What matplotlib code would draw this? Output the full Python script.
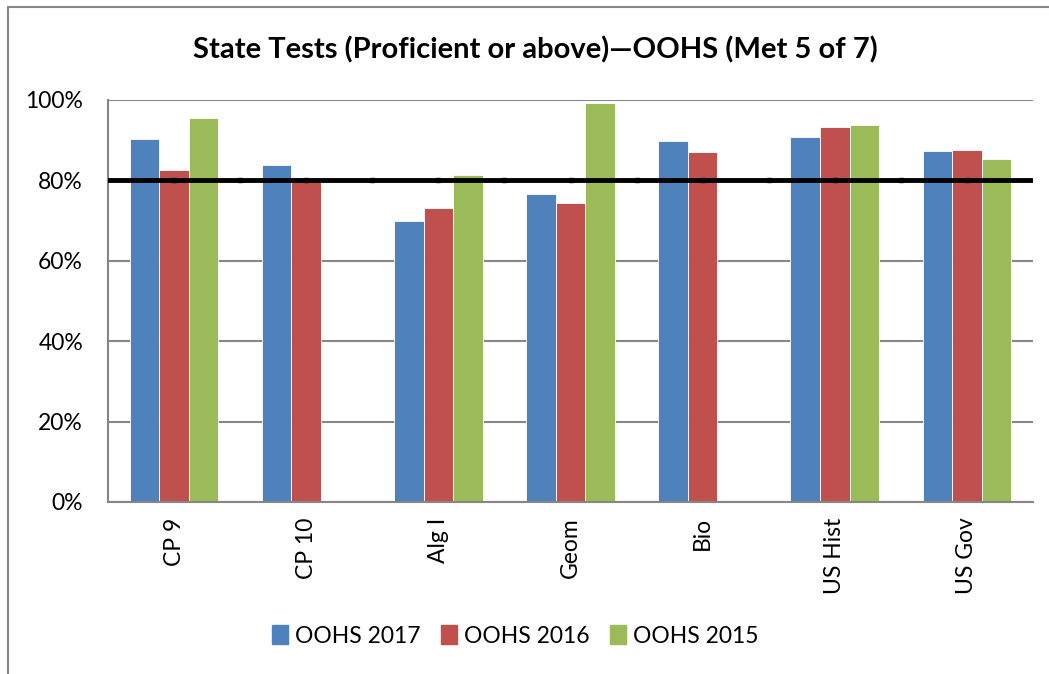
import matplotlib.pyplot as plt
import matplotlib.patches as mpatches
import numpy as np

plt.rcParams['font.family'] = ['Lato', 'DejaVu Sans']

# Data
subjects = ['CP 9', 'CP 10', 'Alg I', 'Geom', 'Bio', 'US Hist', 'US Gov']
series_names = ['OOHS 2017', 'OOHS 2016', 'OOHS 2015']
oohs_2017 = [90.4, 83.8, 69.8, 76.5, 89.8, 90.7, 87.3]
oohs_2016 = [82.7, 80.0, 73.1, 74.5, 87.0, 93.4, 87.5]
oohs_2015 = [95.6, np.nan, 81.4, 99.3, np.nan, 93.8, 85.3]
target = 80
y_ticks = [0, 20, 40, 60, 80, 100]
y_tick_labels = ['0%', '20%', '40%', '60%', '80%', '100%']

colors = ['#4F81BD', '#C0504D', '#9BBB59']
grid_color = '#868686'

fig = plt.figure(figsize=(10.49, 6.74), dpi=100)
ax = fig.add_axes([108 / 1049, 1 - 502 / 674, (1033 - 108) / 1049, (502 - 100) / 674])

# outer chart border (left and top visible)
fig.patches.append(mpatches.Rectangle((8 / 1049, -0.1), 1.2, 1 - 7 / 674 + 0.1,
                                      transform=fig.transFigure, fill=False,
                                      edgecolor=grid_color, linewidth=1.5))

x = np.arange(len(subjects))
width = 0.224
for i, (vals, name) in enumerate(zip([oohs_2017, oohs_2016, oohs_2015], series_names)):
    ax.bar(x + (i - 1) * width, vals, width, color=colors[i], label=name,
           edgecolor='white', linewidth=0.6, zorder=2)

# 80% target line with small markers
ax.axhline(target, color='black', linewidth=3.5, zorder=3)
marks = np.arange(0, len(subjects) - 0.5, 0.5)
ax.plot(marks, [target] * len(marks), linestyle='none', marker='s',
        markersize=3.5, color='black', zorder=4)

ax.set_xlim(-0.5, len(subjects) - 0.5)
ax.set_ylim(0, 100)
ax.set_yticks(y_ticks)
ax.set_yticklabels(y_tick_labels, fontsize=16.5)
ax.set_xticks(x)
ax.set_xticklabels(subjects, rotation=90, fontsize=16.5)
ax.tick_params(axis='both', length=0)
ax.tick_params(axis='y', pad=18)
ax.tick_params(axis='x', pad=11)
ax.grid(axis='y', color=grid_color, linewidth=1.5, zorder=0)
ax.set_axisbelow(True)
for side in ['top', 'right']:
    ax.spines[side].set_visible(False)
for side in ['left', 'bottom']:
    ax.spines[side].set_color(grid_color)
    ax.spines[side].set_linewidth(1.5)

fig.text(535 / 1049, 1 - 50 / 674, 'State Tests (Proficient or above)\u2014OOHS (Met 5 of 7)',
         ha='center', va='center', fontsize=21, fontweight='bold')

handles = [mpatches.Patch(color=c) for c in colors]
fig.legend(handles, series_names, loc='center', bbox_to_anchor=(515 / 1049, 1 - 636 / 674),
           ncol=3, frameon=False, fontsize=16.5, handlelength=0.7, handleheight=0.9,
           handletextpad=0.3, columnspacing=0.9)

fig.savefig('out.png', dpi=100)
